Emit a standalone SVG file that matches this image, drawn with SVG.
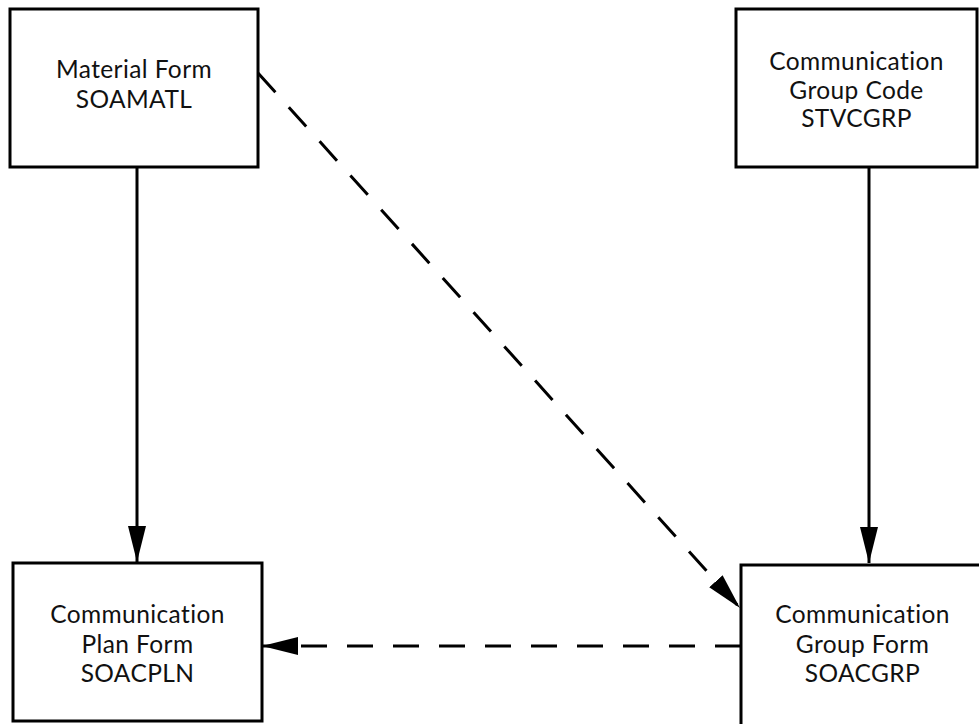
<svg xmlns="http://www.w3.org/2000/svg" width="979" height="724" viewBox="0 0 979 724">
  <defs>
    <style>
      .box { fill: #ffffff; stroke: #000000; stroke-width: 3; }
      .lbl { font-family: Lato, "Open Sans", "Liberation Sans", sans-serif; font-size: 24.5px; letter-spacing: 0.4px; font-variant-ligatures: none; fill: #111111; text-anchor: middle; }
      .edge { fill: none; stroke: #000000; stroke-width: 3; }
      .dash { stroke-dasharray: 26 20; }
    </style>
    <marker id="head" viewBox="0 0 36 18" refX="36" refY="9" markerWidth="36" markerHeight="18" markerUnits="userSpaceOnUse" orient="auto">
      <path d="M0,0 L36,9 L0,18 Z" fill="#000000"/>
    </marker>
  </defs>

  <g id="connectors">
    <line class="edge" x1="137" y1="167" x2="137" y2="562" marker-end="url(#head)"/>
    <line class="edge" x1="869" y1="167" x2="869" y2="563" marker-end="url(#head)"/>
    <line class="edge dash" x1="258" y1="73" x2="740" y2="608" marker-end="url(#head)"/>
    <line class="edge dash" x1="741" y1="646" x2="262" y2="646" marker-end="url(#head)"/>
  </g>

  <g id="material-form">
    <rect class="box" x="10" y="9" width="248" height="158"/>
    <text class="lbl" x="134" y="78">Material Form</text>
    <text class="lbl" x="134" y="108">SOAMATL</text>
  </g>

  <g id="group-code">
    <rect class="box" x="736" y="9" width="241" height="158"/>
    <text class="lbl" x="856.5" y="70">Communication</text>
    <text class="lbl" x="856.5" y="99">Group Code</text>
    <text class="lbl" x="856.5" y="127">STVCGRP</text>
  </g>

  <g id="plan-form">
    <rect class="box" x="13" y="563" width="249" height="158"/>
    <text class="lbl" x="137.5" y="623">Communication</text>
    <text class="lbl" x="137.5" y="653">Plan Form</text>
    <text class="lbl" x="137.5" y="682">SOACPLN</text>
  </g>

  <g id="group-form">
    <rect class="box" x="741" y="565" width="243" height="165"/>
    <text class="lbl" x="862.5" y="623">Communication</text>
    <text class="lbl" x="862.5" y="653">Group Form</text>
    <text class="lbl" x="862.5" y="682">SOACGRP</text>
  </g>
</svg>
